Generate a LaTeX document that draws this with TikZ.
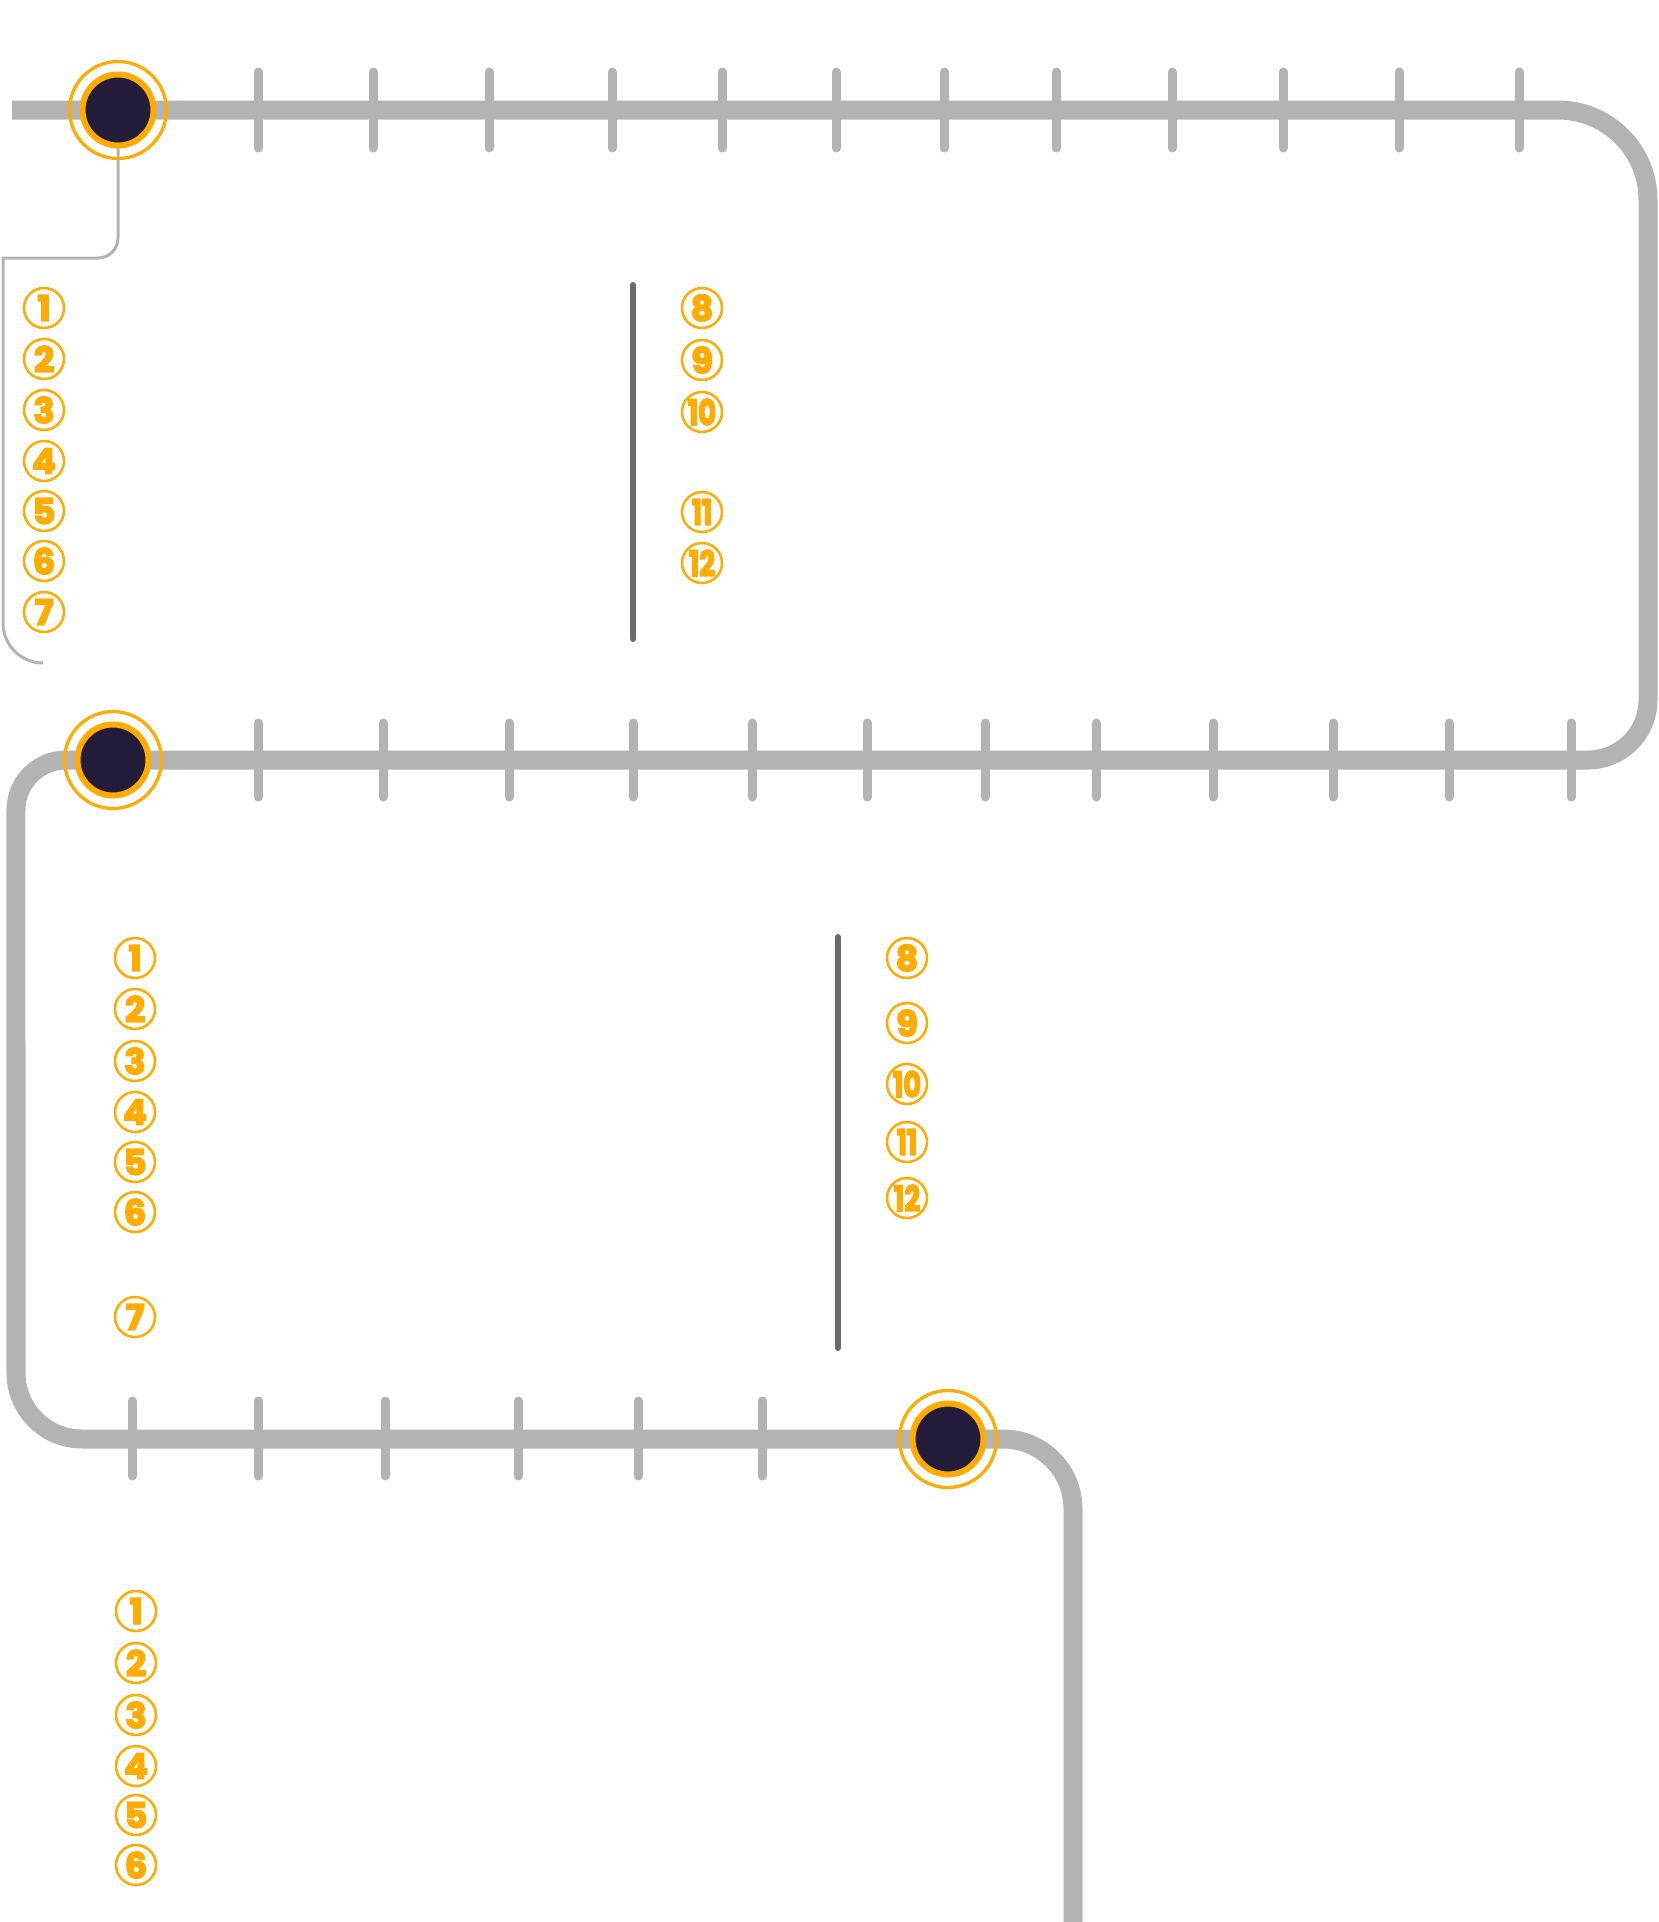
\documentclass[tikz,border=0pt]{standalone}
\usepackage{fontspec}
\setmainfont{Poppins}
\newfontfamily\numfont{Poppins}[FakeBold=4.5]
\usepackage{graphicx}
\definecolor{trackgray}{HTML}{B3B3B3}
\definecolor{stopdark}{HTML}{241C3B}
\definecolor{amber}{HTML}{FFAB00}
\definecolor{sepgray}{HTML}{6B6B6B}
\tikzset{
  track/.style={line width=3.8mm, draw=trackgray},
  railtick/.style={line width=1.8mm, draw=trackgray, line cap=round},
  stop/.style={circle, fill=stopdark, draw=amber, line width=1.2mm, minimum size=14.2mm, inner sep=0pt},
  ring/.style={draw=amber, line width=0.65mm},
  badge/.style={circle, draw=amber, line width=0.5mm, minimum size=8mm, inner sep=0pt,
    text=amber, font=\fontsize{20}{20}\numfont\bfseries},
  sep/.style={line width=1.2mm, draw=sepgray, line cap=round}
}
\begin{document}
\begin{tikzpicture}[x=0.2mm, y=-0.2mm]
  \useasboundingbox (0,0) rectangle (1659,1922);

  % main track
  \draw[track] (12,110) -- (1558,110) arc[start angle=90, end angle=0, radius=18mm]
    -- (1648,700) arc[start angle=0, end angle=-90, radius=12mm]
    -- (66,760) arc[start angle=90, end angle=180, radius=10mm]
    -- (16,1373) arc[start angle=180, end angle=270, radius=13.2mm]
    -- (1003,1439) arc[start angle=90, end angle=0, radius=14mm]
    -- (1073,1922);

  % ticks
  \foreach \x in {258,373,489,612,722,836,944,1056,1172,1283,1399,1519}
    \draw[railtick] (\x,72) -- (\x,148);
  \foreach \x in {258,383,509,633,752,867,985,1096,1213,1333,1449,1571}
    \draw[railtick] (\x,723) -- (\x,797);
  \foreach \x in {132,258,385,518,638,762}
    \draw[railtick] (\x,1401) -- (\x,1476);

  % stops
  \coordinate (hubA) at (118,110);
  \draw[trackgray, line width=0.6mm] (hubA) -- (118,238)
    arc[start angle=0, end angle=-90, radius=4mm] -- (3,258) -- (3,623)
    arc[start angle=180, end angle=270, radius=8mm];
  \node[stop] (stopA) at (hubA) {};
  \node[stop] (stopB) at (113,760) {};
  \node[stop] (stopC) at (948,1439) {};
  \foreach \s in {stopA,stopB,stopC}
    \draw[ring] (\s.center) circle[radius=9.7mm];

  % dividers
  \draw[sep] (633,285) -- (633,639);
  \draw[sep] (838,937) -- (838,1348);

  % first block
  \foreach \n/\y in {1/308,2/359,3/410,4/461,5/511,6/561,7/612}
    \node[badge] (a\n) at (44,\y) {\n};
  \foreach \n/\y in {8/308,9/360}
    \node[badge] (a\n) at (702,\y) {\n};
  \foreach \n/\y in {10/412,11/512,12/563}
    \node[badge] (a\n) at (702,\y) {\scalebox{.78}[1]{\n}};

  % second block
  \foreach \n/\y in {1/958,2/1009,3/1061,4/1112,5/1162,6/1212,7/1317}
    \node[badge] (b\n) at (135,\y) {\n};
  \foreach \n/\y in {8/958,9/1023}
    \node[badge] (b\n) at (907,\y) {\n};
  \foreach \n/\y in {10/1084,11/1142,12/1198}
    \node[badge] (b\n) at (907,\y) {\scalebox{.78}[1]{\n}};

  % third block
  \foreach \n/\y in {1/1611,2/1663,3/1715,4/1766,5/1815,6/1865}
    \node[badge] (c\n) at (136,\y) {\n};
\end{tikzpicture}
\end{document}
